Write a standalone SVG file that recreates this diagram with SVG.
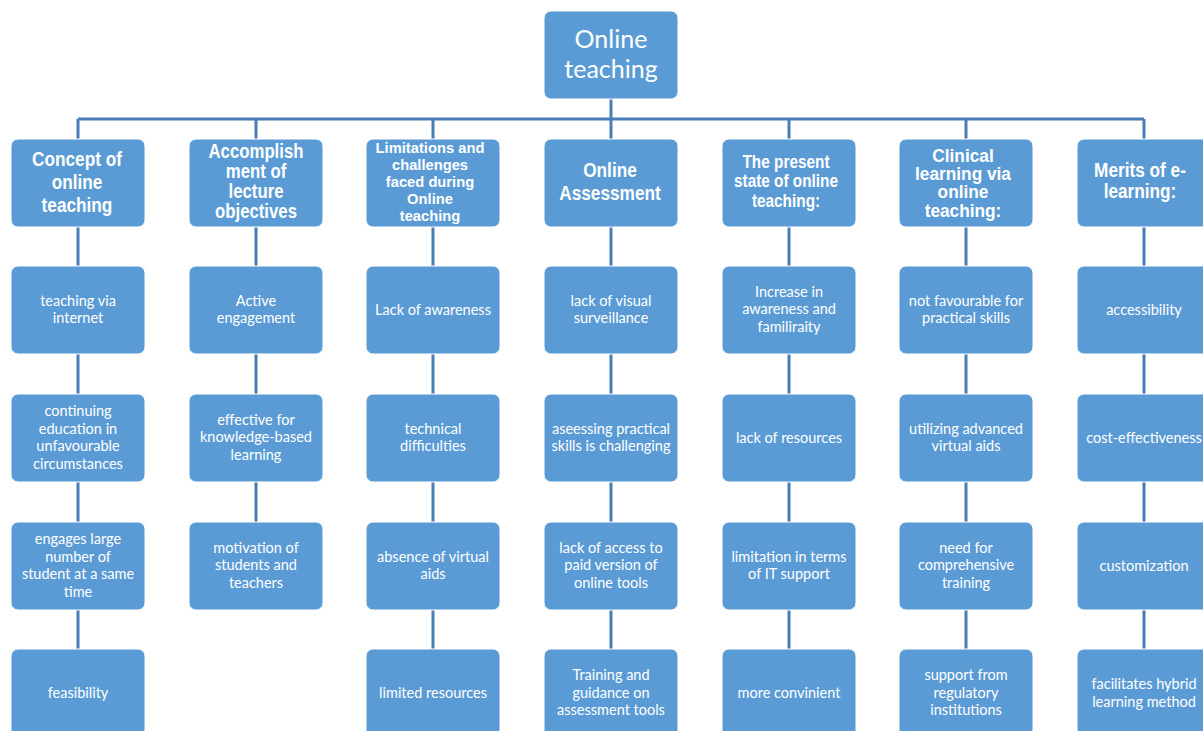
<svg xmlns="http://www.w3.org/2000/svg" width="1203" height="731" viewBox="0 0 1203 731">
<style>
.box{fill:#5b9bd5;stroke:#ffffff;stroke-width:1}
.hd{font-family:"Liberation Sans",Arial,sans-serif;font-weight:bold;fill:#ffffff;text-anchor:middle}
.bd{font-family:Lato,"Open Sans",sans-serif;font-size:14.5px;fill:#ffffff;text-anchor:middle}
.root{font-family:Lato,"Open Sans",sans-serif;font-size:25px;fill:#ffffff;text-anchor:middle}
.cn{stroke:#4a7db5;stroke-width:3;fill:none}
</style>
<rect width="1203" height="731" fill="#ffffff"/>
<g id="connectors" class="cn">
<path d="M611 99V119M78 119H1144M78 119V139M256 119V139M433 119V139M611 119V139M789 119V139M966 119V139M1144 119V139"/>
<path d="M78 227V266M78 354V394M78 482V522M78 610V649"/>
<path d="M256 227V266M256 354V394M256 482V522"/>
<path d="M433 227V266M433 354V394M433 482V522M433 610V649"/>
<path d="M611 227V266M611 354V394M611 482V522M611 610V649"/>
<path d="M789 227V266M789 354V394M789 482V522M789 610V649"/>
<path d="M966 227V266M966 354V394M966 482V522M966 610V649"/>
<path d="M1144 227V266M1144 354V394M1144 482V522M1144 610V649"/>
</g>
<g id="root"><rect class="box" x="544" y="11" width="134" height="88" rx="7"/><text class="root" x="611" y="48">Online</text><text class="root" x="611" y="78">teaching</text></g>

<g id="h1"><rect class="box" x="11" y="139" width="134" height="88" rx="7"/><g transform="translate(77 0) scale(0.82 1)" class="hd" font-size="21"><text x="0" y="166">Concept of</text><text x="0" y="189.5">online</text><text x="0" y="212.5">teaching</text></g></g>
<g id="h2"><rect class="box" x="189" y="139" width="134" height="88" rx="7"/><g transform="translate(256 0) scale(0.86 1)" class="hd" font-size="19.5"><text x="0" y="157.7">Accomplish</text><text x="0" y="177.7">ment of</text><text x="0" y="197.7">lecture</text><text x="0" y="217.7">objectives</text></g></g>
<g id="h3"><rect class="box" x="366" y="139" width="134" height="88" rx="7"/><g transform="translate(430 0) scale(0.95 1)" class="hd" font-size="15.5"><text x="0" y="153.5">Limitations and</text><text x="0" y="170.3">challenges</text><text x="0" y="187.2">faced during</text><text x="0" y="204">Online</text><text x="0" y="220.7">teaching</text></g></g>
<g id="h4"><rect class="box" x="544" y="139" width="134" height="88" rx="7"/><g transform="translate(610 0) scale(0.84 1)" class="hd" font-size="20.5"><text x="0" y="176.7">Online</text><text x="0" y="200">Assessment</text></g></g>
<g id="h5"><rect class="box" x="722" y="139" width="134" height="88" rx="7"/><g transform="translate(786 0) scale(0.84 1)" class="hd" font-size="18.3"><text x="0" y="167.7">The present</text><text x="0" y="187.3">state of online</text><text x="0" y="207.3">teaching:</text></g></g>
<g id="h6"><rect class="box" x="899" y="139" width="134" height="88" rx="7"/><g transform="translate(963 0) scale(0.96 1)" class="hd" font-size="18"><text x="0" y="161.7">Clinical</text><text x="0" y="179.9">learning via</text><text x="0" y="198.2">online</text><text x="0" y="216.7">teaching:</text></g></g>
<g id="h7"><rect class="box" x="1077" y="139" width="134" height="88" rx="7"/><g transform="translate(1140 0) scale(0.84 1)" class="hd" font-size="20.5"><text x="0" y="176.7">Merits of e-</text><text x="0" y="198.3">learning:</text></g></g>

<g id="c1r2"><rect class="box" x="11" y="266" width="134" height="88" rx="7"/><text class="bd" x="78" y="305.5">teaching via</text><text class="bd" x="78" y="323">internet</text></g>
<g id="c1r3"><rect class="box" x="11" y="394" width="134" height="88" rx="7"/><text class="bd" x="78" y="416">continuing</text><text class="bd" x="78" y="433.5">education in</text><text class="bd" x="78" y="451">unfavourable</text><text class="bd" x="78" y="468.5">circumstances</text></g>
<g id="c1r4"><rect class="box" x="11" y="522" width="134" height="88" rx="7"/><text class="bd" x="78" y="544">engages large</text><text class="bd" x="78" y="561.5">number of</text><text class="bd" x="78" y="579">student at a same</text><text class="bd" x="78" y="596.5">time</text></g>
<g id="c1r5"><rect class="box" x="11" y="649" width="134" height="88" rx="7"/><text class="bd" x="78" y="697.5">feasibility</text></g>

<g id="c2r2"><rect class="box" x="189" y="266" width="134" height="88" rx="7"/><text class="bd" x="256" y="305.5">Active</text><text class="bd" x="256" y="323">engagement</text></g>
<g id="c2r3"><rect class="box" x="189" y="394" width="134" height="88" rx="7"/><text class="bd" x="256" y="424.8">effective for</text><text class="bd" x="256" y="442.3">knowledge-based</text><text class="bd" x="256" y="459.8">learning</text></g>
<g id="c2r4"><rect class="box" x="189" y="522" width="134" height="88" rx="7"/><text class="bd" x="256" y="552.8">motivation of</text><text class="bd" x="256" y="570.3">students and</text><text class="bd" x="256" y="587.8">teachers</text></g>

<g id="c3r2"><rect class="box" x="366" y="266" width="134" height="88" rx="7"/><text class="bd" x="433" y="314.5">Lack of awareness</text></g>
<g id="c3r3"><rect class="box" x="366" y="394" width="134" height="88" rx="7"/><text class="bd" x="433" y="433.5">technical</text><text class="bd" x="433" y="451">difficulties</text></g>
<g id="c3r4"><rect class="box" x="366" y="522" width="134" height="88" rx="7"/><text class="bd" x="433" y="561.5">absence of virtual</text><text class="bd" x="433" y="579">aids</text></g>
<g id="c3r5"><rect class="box" x="366" y="649" width="134" height="88" rx="7"/><text class="bd" x="433" y="697.5">limited resources</text></g>

<g id="c4r2"><rect class="box" x="544" y="266" width="134" height="88" rx="7"/><text class="bd" x="611" y="305.5">lack of visual</text><text class="bd" x="611" y="323">surveillance</text></g>
<g id="c4r3"><rect class="box" x="544" y="394" width="134" height="88" rx="7"/><text class="bd" x="611" y="433.5">aseessing practical</text><text class="bd" x="611" y="451">skills is challenging</text></g>
<g id="c4r4"><rect class="box" x="544" y="522" width="134" height="88" rx="7"/><text class="bd" x="611" y="552.8">lack of access to</text><text class="bd" x="611" y="570.3">paid version of</text><text class="bd" x="611" y="587.8">online tools</text></g>
<g id="c4r5"><rect class="box" x="544" y="649" width="134" height="88" rx="7"/><text class="bd" x="611" y="680">Training and</text><text class="bd" x="611" y="697.5">guidance on</text><text class="bd" x="611" y="715">assessment tools</text></g>

<g id="c5r2"><rect class="box" x="722" y="266" width="134" height="88" rx="7"/><text class="bd" x="789" y="296.8">Increase in</text><text class="bd" x="789" y="314.3">awareness and</text><text class="bd" x="789" y="331.8">familiraity</text></g>
<g id="c5r3"><rect class="box" x="722" y="394" width="134" height="88" rx="7"/><text class="bd" x="789" y="442.5">lack of resources</text></g>
<g id="c5r4"><rect class="box" x="722" y="522" width="134" height="88" rx="7"/><text class="bd" x="789" y="561.5">limitation in terms</text><text class="bd" x="789" y="579">of IT support</text></g>
<g id="c5r5"><rect class="box" x="722" y="649" width="134" height="88" rx="7"/><text class="bd" x="789" y="697.5">more convinient</text></g>

<g id="c6r2"><rect class="box" x="899" y="266" width="134" height="88" rx="7"/><text class="bd" x="966" y="305.5">not favourable for</text><text class="bd" x="966" y="323">practical skills</text></g>
<g id="c6r3"><rect class="box" x="899" y="394" width="134" height="88" rx="7"/><text class="bd" x="966" y="433.5">utilizing advanced</text><text class="bd" x="966" y="451">virtual aids</text></g>
<g id="c6r4"><rect class="box" x="899" y="522" width="134" height="88" rx="7"/><text class="bd" x="966" y="552.8">need for</text><text class="bd" x="966" y="570.3">comprehensive</text><text class="bd" x="966" y="587.8">training</text></g>
<g id="c6r5"><rect class="box" x="899" y="649" width="134" height="88" rx="7"/><text class="bd" x="966" y="680">support from</text><text class="bd" x="966" y="697.5">regulatory</text><text class="bd" x="966" y="715">institutions</text></g>

<g id="c7r2"><rect class="box" x="1077" y="266" width="134" height="88" rx="7"/><text class="bd" x="1144" y="314.5">accessibility</text></g>
<g id="c7r3"><rect class="box" x="1077" y="394" width="134" height="88" rx="7"/><text class="bd" x="1144" y="442.5">cost-effectiveness</text></g>
<g id="c7r4"><rect class="box" x="1077" y="522" width="134" height="88" rx="7"/><text class="bd" x="1144" y="570.5">customization</text></g>
<g id="c7r5"><rect class="box" x="1077" y="649" width="134" height="88" rx="7"/><text class="bd" x="1144" y="689">facilitates hybrid</text><text class="bd" x="1144" y="706.5">learning method</text></g>
</svg>
